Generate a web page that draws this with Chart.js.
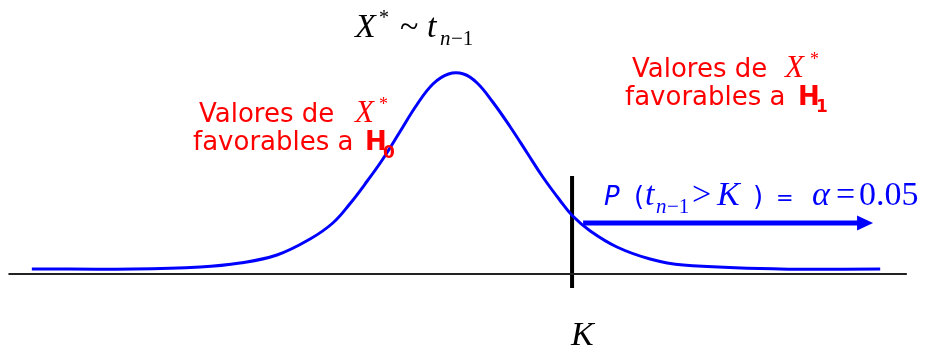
<!DOCTYPE html>
<html>
<head>
<meta charset="utf-8">
<script src="https://cdn.jsdelivr.net/npm/chart.js@4.4.1/dist/chart.umd.min.js"></script>
<style>
  html, body { margin: 0; padding: 0; background: #fff; }
  #wrap { width: 927px; height: 349px; }
</style>
</head>
<body>
<div id="wrap"><canvas id="tchart" width="927" height="349"></canvas></div>
<script>
// t-density curve (x in t units, y = density)
const curveX = [-6.54, -4.98, -3.95, -3.34, -2.77, -2.26, -1.91, -1.65, -1.38, -1.14, -0.88, -0.62, -0.37, -0.13, 0.1,
                0.31, 0.55, 0.82, 1.08, 1.32, 1.58, 1.78, 2.05, 2.46, 2.97, 3.48, 4.97, 6.51];
const curveY = [0.010, 0.010, 0.014, 0.022, 0.038, 0.070, 0.102, 0.140, 0.186, 0.230, 0.284, 0.338, 0.380, 0.400, 0.400,
                0.382, 0.344, 0.294, 0.242, 0.194, 0.148, 0.116, 0.086, 0.054, 0.030, 0.018, 0.010, 0.010];

const axisX = [-6.9, 6.92];
const K = 1.77;
const kLineY = [0.196, -0.028];
const arrowX = [1.94, 6.40];
const arrowY = 0.102;

const pts = (xs, ys) => xs.map((x, i) => ({ x: x, y: ys[i] }));

// draws the arrowhead at the end of the alpha arrow, through the scales
const arrowHead = {
    id: 'arrowHead',
    afterDatasetsDraw(chart) {
        const { ctx, scales: { x, y } } = chart;
        const tip = x.getPixelForValue(arrowX[1]);
        const py = y.getPixelForValue(arrowY);
        ctx.save();
        ctx.fillStyle = '#0000ff';
        ctx.beginPath();
        ctx.moveTo(tip, py);
        ctx.lineTo(tip - 16, py - 7.5);
        ctx.lineTo(tip - 16, py + 7.5);
        ctx.closePath();
        ctx.fill();
        ctx.restore();
    }
};

const SERIF = '"Liberation Serif", "Times New Roman", serif';
const SANS = '"DejaVu Sans", Verdana, sans-serif';

function txt(ctx, s, x, y, font, color) {
    ctx.font = font;
    ctx.fillStyle = color;
    ctx.fillText(s, x, y);
}

// labels and formulas
const labels = {
    id: 'labels',
    afterDraw(chart) {
        const ctx = chart.ctx;
        ctx.save();
        ctx.textBaseline = 'alphabetic';
        ctx.textAlign = 'left';

        // X* ~ t_{n-1}
        txt(ctx, 'X', 355, 37, 'italic 34px ' + SERIF, '#000');
        txt(ctx, '*', 379, 24, '20px ' + SERIF, '#000');
        txt(ctx, '~', 400, 37, '34px ' + SERIF, '#000');
        txt(ctx, 't', 427, 37, 'italic 34px ' + SERIF, '#000');
        txt(ctx, 'n', 440, 45, 'italic 21px ' + SERIF, '#000');
        txt(ctx, '\u22121', 451, 45, '21px ' + SERIF, '#000');

        // left red note
        const red = '#ff0000';
        txt(ctx, 'Valores de', 199, 122, '26px ' + SANS, red);
        txt(ctx, 'X', 355, 122, 'italic 31px ' + SERIF, red);
        txt(ctx, '*', 379, 110, '18px ' + SERIF, red);
        txt(ctx, 'favorables a', 193, 150, '26px ' + SANS, red);
        txt(ctx, 'H', 365, 150, 'bold 26px ' + SANS, red);
        txt(ctx, '0', 383, 158, 'bold 17px ' + SANS, red);

        // right red note
        txt(ctx, 'Valores de', 632, 77, '26px ' + SANS, red);
        txt(ctx, 'X', 785, 77, 'italic 31px ' + SERIF, red);
        txt(ctx, '*', 810, 65, '18px ' + SERIF, red);
        txt(ctx, 'favorables a', 625, 105, '26px ' + SANS, red);
        txt(ctx, 'H', 798, 105, 'bold 26px ' + SANS, red);
        txt(ctx, '1', 816, 112, 'bold 17px ' + SANS, red);

        // P(t_{n-1} > K) = alpha = 0.05
        const blue = '#0000ff';
        txt(ctx, 'P', 604, 205, 'oblique 26px ' + SANS, blue);
        txt(ctx, '(', 634, 205, '26px ' + SANS, blue);
        txt(ctx, 't', 645, 205, 'italic 34px ' + SERIF, blue);
        txt(ctx, 'n', 656, 213, 'italic 21px ' + SERIF, blue);
        txt(ctx, '\u22121', 667, 213, '21px ' + SERIF, blue);
        txt(ctx, '>', 692, 205, '34px ' + SERIF, blue);
        txt(ctx, 'K', 717, 205, 'italic 34px ' + SERIF, blue);
        txt(ctx, ')', 753, 205, '26px ' + SANS, blue);
        txt(ctx, '=', 776, 205, '21px ' + SANS, blue);
        txt(ctx, '\u03b1', 812, 205, 'italic 34px ' + SERIF, blue);
        txt(ctx, '=', 836, 205, '34px ' + SERIF, blue);
        txt(ctx, '0.05', 859, 205, '34px ' + SERIF, blue);

        // K under the axis
        const kx = chart.scales.x.getPixelForValue(K);
        txt(ctx, 'K', kx - 1, 345, 'italic 34px ' + SERIF, '#000');
        ctx.restore();
    }
};

new Chart(document.getElementById('tchart').getContext('2d'), {
    type: 'line',
    data: {
        datasets: [
            {
                data: pts(axisX, [0, 0]),
                borderColor: '#222',
                borderWidth: 2,
                pointRadius: 0
            },
            {
                data: pts(curveX, curveY),
                borderColor: '#0000ff',
                borderWidth: 3,
                pointRadius: 0,
                tension: 0.4
            },
            {
                data: pts([K, K], kLineY),
                borderColor: '#000',
                borderWidth: 4,
                pointRadius: 0
            },
            {
                data: pts([arrowX[0], arrowX[1] - 0.2], [arrowY, arrowY]),
                borderColor: '#0000ff',
                borderWidth: 5,
                pointRadius: 0
            }
        ]
    },
    options: {
        responsive: false,
        animation: false,
        devicePixelRatio: 1,
        layout: { padding: 0 },
        plugins: { legend: { display: false }, tooltip: { enabled: false } },
        scales: {
            x: { type: 'linear', min: -7.03, max: 7.23, display: false },
            y: { min: -0.15, max: 0.548, display: false }
        }
    },
    plugins: [arrowHead, labels]
});
</script>
</body>
</html>
